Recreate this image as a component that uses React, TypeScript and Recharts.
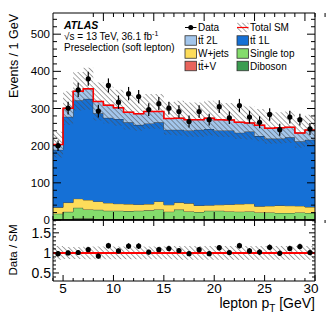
import React from 'react';
import { ComposedChart, Area, Line, Scatter, ErrorBar, XAxis, YAxis, ReferenceLine } from 'recharts';

const FONT = '"Liberation Sans", Arial, Helvetica, sans-serif';

// bin edges (GeV) and bin centres
const binEdges = [4, 5, 6, 7, 8, 9, 10, 11, 12, 13, 14, 15, 16, 17, 18, 19, 20, 21, 22, 23, 24, 25, 26, 27, 28, 29, 30];
const binCenters = [4.5, 5.5, 6.5, 7.5, 8.5, 9.5, 10.5, 11.5, 12.5, 13.5, 14.5, 15.5, 16.5, 17.5, 18.5, 19.5, 20.5, 21.5, 22.5, 23.5, 24.5, 25.5, 26.5, 27.5, 28.5, 29.5];

// background samples (events / bin)
const diboson = [2, 2, 3, 3, 2, 2, 2, 2, 2, 2, 2, 2, 2, 2, 2, 2, 2, 2, 2, 2, 2, 2, 2, 2, 2, 2];
const ttV = [1, 1, 1, 1, 1, 1, 1, 1, 1, 1, 1, 1, 1, 1, 1, 1, 1, 1, 1, 1, 1, 1, 1, 1, 1, 1];
const singleTop = [14, 19, 29, 24.5, 24.5, 22, 22, 21, 22, 23, 25.5, 19.5, 25, 20, 18.5, 22, 22, 20, 19.5, 20, 17.5, 17.5, 16, 16, 17.5, 16];
const wJets = [17, 25, 24.5, 25.5, 22.5, 21, 19, 19, 17, 17, 21.5, 18.5, 19, 22, 17.5, 15, 16, 19, 20.5, 21, 16.5, 17.5, 20, 19.5, 17.5, 16];
const tt1L = [155, 231, 265, 272, 237, 229, 228, 220, 214, 217, 213, 202, 196, 196, 204, 205, 200, 199, 192, 194, 189, 181, 180, 184, 174, 181];
const tt2L = [14, 23, 24, 27, 32, 34, 30, 27, 30, 32, 29, 30, 31, 29, 27, 29, 29, 28, 28, 23, 29, 28, 29, 27, 22, 26];
// relative total-SM uncertainty per bin
const relErr = [0.17, 0.15, 0.15, 0.16, 0.16, 0.16, 0.16, 0.16, 0.16, 0.16, 0.16, 0.16, 0.17, 0.17, 0.17, 0.17, 0.17, 0.17, 0.17, 0.17, 0.17, 0.17, 0.17, 0.17, 0.17, 0.17];

// data
const dataCounts = [200, 301, 350, 380, 293, 362, 317, 340, 332, 297, 313, 301, 292, 265, 292, 270, 305, 275, 308, 277, 263, 284, 243, 277, 270, 245];
const dataErr = [14, 17, 19, 19, 17, 19, 18, 18, 18, 17, 18, 17, 17, 16, 17, 16, 17, 17, 18, 17, 16, 17, 16, 17, 16, 16];
const ratio = [0.98, 1.0, 1.01, 1.08, 0.92, 1.18, 1.05, 1.17, 1.17, 1.02, 1.08, 1.11, 1.06, 0.98, 1.08, 0.98, 1.13, 1.01, 1.18, 1.05, 1.02, 1.14, 0.99, 1.11, 1.16, 1.01];
const ratioErr = [0.07, 0.06, 0.06, 0.06, 0.06, 0.07, 0.06, 0.07, 0.07, 0.06, 0.06, 0.07, 0.06, 0.06, 0.07, 0.06, 0.07, 0.06, 0.07, 0.07, 0.07, 0.07, 0.07, 0.07, 0.07, 0.07];

// ticks
const xTicks = binEdges;
const mainYTicks = [0, 20, 40, 60, 80, 100, 120, 140, 160, 180, 200, 220, 240, 260, 280, 300, 320, 340, 360, 380, 400, 420, 440, 460, 480, 500, 520, 540];
const ratioYTicks = [0.4, 0.5, 0.6, 0.7, 0.8, 0.9, 1.0, 1.1, 1.2, 1.3, 1.4, 1.5, 1.6, 1.7, 1.8];

const C = {
  tt2L: '#a3c6ec',
  tt1L: '#1570d6',
  wJets: '#fddc5a',
  singleTop: '#84dc6c',
  ttV: '#e8645c',
  diboson: '#3a9c50',
};

const mainRows = binEdges.map((x, i) => {
  const k = Math.min(i, tt1L.length - 1);
  const tot = diboson[k] + ttV[k] + singleTop[k] + wJets[k] + tt1L[k] + tt2L[k];
  return {
    x,
    diboson: diboson[k],
    ttV: ttV[k],
    singleTop: singleTop[k],
    wJets: wJets[k],
    tt1L: tt1L[k],
    tt2L: tt2L[k],
    total: tot,
    band: [tot * (1 - relErr[k]), tot * (1 + relErr[k])],
  };
});
const ratioRows = binEdges.map((x, i) => {
  const k = Math.min(i, relErr.length - 1);
  return { x, band: [1 - relErr[k], 1 + relErr[k]] };
});
const dataPts = binCenters.map((x, i) => ({ x, y: dataCounts[i], err: dataErr[i] }));
const ratioPts = binCenters.map((x, i) => ({ x, y: ratio[i], err: ratioErr[i] }));

const dot = (p: any) => <circle cx={p.cx} cy={p.cy} r={2.6} fill="#000" />;

const xMajor = (v: number) => v % 5 === 0;

const tickBottomMain = (p: any) => {
  const v = p.payload.value;
  const len = xMajor(v) ? 8 : 4;
  return <line x1={p.x} x2={p.x} y1={p.y} y2={p.y - len} stroke="#000" strokeWidth={1} />;
};
const tickTopMain = (p: any) => {
  const v = p.payload.value;
  const len = xMajor(v) ? 8 : 4;
  return <line x1={p.x} x2={p.x} y1={p.y} y2={p.y + len} stroke="#000" strokeWidth={1} />;
};
const tickLeftMain = (p: any) => {
  const v = p.payload.value;
  const maj = v % 100 === 0;
  return (
    <g>
      <line x1={p.x} x2={p.x + (maj ? 8 : 4)} y1={p.y} y2={p.y} stroke="#000" strokeWidth={1} />
      {maj ? (
        <text x={p.x - 3} y={p.y} dy={4} textAnchor="end" fontSize={11.5} fontFamily={FONT} fill="#000">
          {v}
        </text>
      ) : null}
    </g>
  );
};
const tickRightMain = (p: any) => {
  const v = p.payload.value;
  const maj = v % 100 === 0;
  return <line x1={p.x} x2={p.x - (maj ? 8 : 4)} y1={p.y} y2={p.y} stroke="#000" strokeWidth={1} />;
};

const tickTopRatio = (p: any) => {
  const v = p.payload.value;
  const len = xMajor(v) ? 6 : 3;
  return <line x1={p.x} x2={p.x} y1={p.y} y2={p.y + len} stroke="#000" strokeWidth={1} />;
};
const tickBottomRatio = (p: any) => {
  const v = p.payload.value;
  const maj = xMajor(v);
  const len = maj ? 6 : 3;
  return (
    <g>
      <line x1={p.x} x2={p.x} y1={p.y} y2={p.y - len} stroke="#000" strokeWidth={1} />
      {maj ? (
        <text x={v === 30 ? p.x - 4 : p.x} y={p.y + 12} textAnchor="middle" fontSize={13.5} fontFamily={FONT} fill="#000">
          {v}
        </text>
      ) : null}
    </g>
  );
};
const rMajor = (v: number) => Math.round(v * 10) % 5 === 0;
const tickLeftRatio = (p: any) => {
  const v = p.payload.value;
  const maj = rMajor(v);
  return (
    <g>
      <line x1={p.x} x2={p.x + (maj ? 6 : 3)} y1={p.y} y2={p.y} stroke="#000" strokeWidth={1} />
      {maj ? (
        <text x={p.x - 2} y={p.y} dy={5} textAnchor="end" fontSize={14} fontFamily={FONT} fill="#000">
          {Math.round(v * 10) === 10 ? '1' : v.toFixed(1)}
        </text>
      ) : null}
    </g>
  );
};
const tickRightRatio = (p: any) => {
  const v = p.payload.value;
  const maj = rMajor(v);
  return <line x1={p.x} x2={p.x - (maj ? 6 : 3)} y1={p.y} y2={p.y} stroke="#000" strokeWidth={1} />;
};

const legendRows = [27.5, 40.5, 53.5, 66];

export default function App() {
  const axisLine = { stroke: '#000', strokeWidth: 1 };
  return (
    <div style={{ position: 'relative', width: 332, height: 322, fontFamily: FONT, background: '#fff' }}>
      <style>{'body{margin:0}'}</style>
      <svg width={0} height={0} style={{ position: 'absolute' }}>
        <defs>
          <pattern id="hatch" width="3.6" height="3.6" patternUnits="userSpaceOnUse" patternTransform="rotate(-45)">
            <line x1="0" y1="0" x2="0" y2="3.6" stroke="#4a4a4a" strokeWidth="1" />
          </pattern>
        </defs>
      </svg>

      <div style={{ position: 'absolute', left: 0, top: 0 }}>
        <ComposedChart width={332} height={232} data={mainRows} margin={{ top: 12, right: 16, bottom: 11, left: 0 }}>
          <XAxis dataKey="x" type="number" domain={[4, 30]} ticks={xTicks} interval={0} height={1}
            tickSize={0} tickMargin={0} axisLine={{ stroke: '#000', strokeWidth: 1.6 }} tick={tickBottomMain} allowDataOverflow />
          <XAxis xAxisId="t" orientation="top" type="number" domain={[4, 30]} ticks={xTicks} interval={0} height={1}
            tickSize={0} tickMargin={0} axisLine={axisLine} tick={tickTopMain} allowDataOverflow />
          <YAxis type="number" domain={[0, 557]} ticks={mainYTicks} interval={0} width={53}
            tickSize={0} tickMargin={0} axisLine={axisLine} tick={tickLeftMain} allowDataOverflow />
          <YAxis yAxisId="r" orientation="right" type="number" domain={[0, 557]} ticks={mainYTicks} interval={0} width={1}
            tickSize={0} tickMargin={0} axisLine={axisLine} tick={tickRightMain} allowDataOverflow />
          <Area type="stepAfter" dataKey="diboson" stackId="s" fill={C.diboson} fillOpacity={1} stroke="#222" strokeWidth={0.8} isAnimationActive={false} />
          <Area type="stepAfter" dataKey="ttV" stackId="s" fill={C.ttV} fillOpacity={1} stroke="#222" strokeWidth={0.8} isAnimationActive={false} />
          <Area type="stepAfter" dataKey="singleTop" stackId="s" fill={C.singleTop} fillOpacity={1} stroke="#222" strokeWidth={0.8} isAnimationActive={false} />
          <Area type="stepAfter" dataKey="wJets" stackId="s" fill={C.wJets} fillOpacity={1} stroke="#222" strokeWidth={0.8} isAnimationActive={false} />
          <Area type="stepAfter" dataKey="tt1L" stackId="s" fill={C.tt1L} fillOpacity={1} stroke="#222" strokeWidth={0.8} isAnimationActive={false} />
          <Area type="stepAfter" dataKey="tt2L" stackId="s" fill={C.tt2L} fillOpacity={1} stroke="#222" strokeWidth={0.8} isAnimationActive={false} />
          <Area type="stepAfter" dataKey="band" fill="url(#hatch)" fillOpacity={1} stroke="none" isAnimationActive={false} />
          <Line type="stepAfter" dataKey="total" stroke="#ff0000" strokeWidth={1.5} dot={false} isAnimationActive={false} />
          <Scatter data={dataPts} dataKey="y" shape={dot} isAnimationActive={false}>
            <ErrorBar dataKey="err" direction="y" width={0} stroke="#000" strokeWidth={1.2} isAnimationActive={false} />
          </Scatter>
        </ComposedChart>
      </div>

      <div style={{ position: 'absolute', left: 0, top: 210 }}>
        <ComposedChart width={332} height={112} data={ratioRows} margin={{ top: 9, right: 16, bottom: 1, left: 0 }}>
          <XAxis dataKey="x" type="number" domain={[4, 30]} ticks={xTicks} interval={0} height={40}
            tickSize={0} tickMargin={0} axisLine={axisLine} tick={tickBottomRatio} allowDataOverflow />
          <XAxis xAxisId="t" orientation="top" type="number" domain={[4, 30]} ticks={xTicks} interval={0} height={1}
            tickSize={0} tickMargin={0} axisLine={axisLine} tick={tickTopRatio} allowDataOverflow />
          <YAxis type="number" domain={[0.3, 1.82]} ticks={ratioYTicks} interval={0} width={53}
            tickSize={0} tickMargin={0} axisLine={axisLine} tick={tickLeftRatio} allowDataOverflow />
          <YAxis yAxisId="r" orientation="right" type="number" domain={[0.3, 1.82]} ticks={ratioYTicks} interval={0} width={1}
            tickSize={0} tickMargin={0} axisLine={axisLine} tick={tickRightRatio} allowDataOverflow />
          <Area type="stepAfter" dataKey="band" fill="url(#hatch)" fillOpacity={1} stroke="none" isAnimationActive={false} />
          <ReferenceLine y={1} stroke="#ff0000" strokeWidth={2} />
          <Scatter data={ratioPts} dataKey="y" shape={dot} isAnimationActive={false}>
            <ErrorBar dataKey="err" direction="y" width={0} stroke="#000" strokeWidth={1.2} isAnimationActive={false} />
          </Scatter>
        </ComposedChart>
      </div>

      <svg width={332} height={322} style={{ position: 'absolute', left: 0, top: 0, pointerEvents: 'none' }} fontFamily={FONT}>
        <text x={64} y={29} fontSize={10.5} fontWeight="bold" fontStyle="italic" fill="#000">ATLAS</text>
        <text x={64} y={40} fontSize={10} fill="#000">
          √s = 13 TeV, 36.1 fb<tspan dy={-4} fontSize={7}>-1</tspan>
        </text>
        <text x={64} y={51} fontSize={10} fill="#000">Preselection (soft lepton)</text>

        {/* legend */}
        <line x1={185} x2={196.5} y1={legendRows[0]} y2={legendRows[0]} stroke="#000" strokeWidth={1} />
        <circle cx={190.75} cy={legendRows[0]} r={2.5} fill="#000" />
        <text x={198} y={legendRows[0] + 3.6} fontSize={10} fill="#000">Data</text>
        <rect x={237} y={legendRows[0] - 4.75} width={11.5} height={9.5} fill="url(#hatch)" />
        <line x1={237} x2={248.5} y1={legendRows[0]} y2={legendRows[0]} stroke="#ff0000" strokeWidth={1.2} />
        <text x={250} y={legendRows[0] + 3.6} fontSize={10} fill="#000">Total SM</text>

        <rect x={185} y={legendRows[1] - 4.75} width={11.5} height={9.5} fill={C.tt2L} stroke="#333" strokeWidth={0.8} />
        <text x={198} y={legendRows[1] + 3.6} fontSize={10} fill="#000">tt̄ 2L</text>
        <rect x={237} y={legendRows[1] - 4.75} width={11.5} height={9.5} fill={C.tt1L} stroke="#333" strokeWidth={0.8} />
        <text x={250} y={legendRows[1] + 3.6} fontSize={10} fill="#000">tt̄ 1L</text>

        <rect x={185} y={legendRows[2] - 4.75} width={11.5} height={9.5} fill={C.wJets} stroke="#333" strokeWidth={0.8} />
        <text x={198} y={legendRows[2] + 3.6} fontSize={10} fill="#000">W+jets</text>
        <rect x={237} y={legendRows[2] - 4.75} width={11.5} height={9.5} fill={C.singleTop} stroke="#333" strokeWidth={0.8} />
        <text x={250} y={legendRows[2] + 3.6} fontSize={10} fill="#000">Single top</text>

        <rect x={185} y={legendRows[3] - 4.75} width={11.5} height={9.5} fill={C.ttV} stroke="#333" strokeWidth={0.8} />
        <text x={198} y={legendRows[3] + 3.6} fontSize={10} fill="#000">tt̄+V</text>
        <rect x={237} y={legendRows[3] - 4.75} width={11.5} height={9.5} fill={C.diboson} stroke="#333" strokeWidth={0.8} />
        <text x={250} y={legendRows[3] + 3.6} fontSize={10} fill="#000">Diboson</text>

        {/* axis titles */}
        <text transform="rotate(-90)" x={-14} y={17.5} textAnchor="end" fontSize={12.5} fill="#000">Events / 1 GeV</text>
        <text transform="rotate(-90)" x={-250} y={16.5} textAnchor="middle" fontSize={11.5} fill="#000">Data / SM</text>
        <text x={315} y={308} textAnchor="end" fontSize={14} fill="#000">
          lepton p<tspan dy={4} fontSize={10}>T</tspan><tspan dy={-4}> [GeV]</tspan>
        </text>
      </svg>
    </div>
  );
}
